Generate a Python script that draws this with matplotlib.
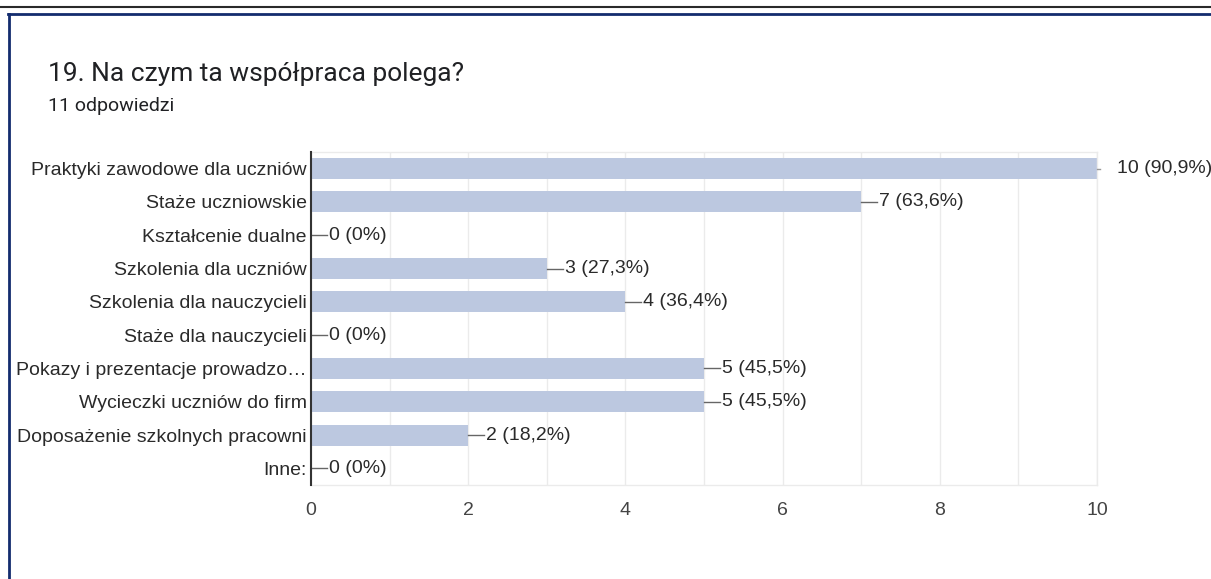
import matplotlib
matplotlib.use("Agg")
import matplotlib.pyplot as plt
from matplotlib.lines import Line2D

categories = [
    "Praktyki zawodowe dla uczniów",
    "Staże uczniowskie",
    "Kształcenie dualne",
    "Szkolenia dla uczniów",
    "Szkolenia dla nauczycieli",
    "Staże dla nauczycieli",
    "Pokazy i prezentacje prowadzo…",
    "Wycieczki uczniów do firm",
    "Doposażenie szkolnych pracowni",
    "Inne:",
]
counts = [10, 7, 0, 3, 4, 0, 5, 5, 2, 0]
percents = ["90,9%", "63,6%", "0%", "27,3%", "36,4%", "0%", "45,5%", "45,5%", "18,2%", "0%"]
xticks = [0, 2, 4, 6, 8, 10]

title = "19. Na czym ta współpraca polega?"
subtitle = "11 odpowiedzi"

W, H = 1211, 579
fig = plt.figure(figsize=(W / 100, H / 100), dpi=100)
fig.patch.set_facecolor("white")

# frame lines
fig.add_artist(Line2D([0, 1], [1 - 7 / H, 1 - 7 / H], transform=fig.transFigure, color="#2a2a2a", lw=1.5))
fig.add_artist(Line2D([8 / W, 1], [1 - 13.5 / H, 1 - 13.5 / H], transform=fig.transFigure, color="#132c6e", lw=2.0))
fig.add_artist(Line2D([8.5 / W, 8.5 / W], [1 - 13.5 / H, 0], transform=fig.transFigure, color="#132c6e", lw=2.0))

fig.text(48 / W, 1 - 74 / H, title, fontsize=19, family="Roboto", color="#202124", va="center", ha="left")
fig.text(48 / W, 1 - 106 / H, subtitle, fontsize=14, family="Roboto", color="#202124", va="center", ha="left")

FS = 14
TXT = "#2a2a2a"
left, right, top, bottom = 311, 1097, 152, 485
ax = fig.add_axes([left / W, 1 - bottom / H, (right - left) / W, (bottom - top) / H])
y = list(range(len(categories)))
ax.barh(y, counts, height=0.63, color="#bcc8e0", zorder=2)
ax.set_xlim(0, 10)
ax.set_ylim(len(categories) - 0.5, -0.5)
ax.set_yticks(y)
ax.set_yticklabels(categories, fontsize=FS, family="Liberation Sans", color=TXT)
ax.set_xticks(xticks)
ax.set_xticklabels([str(t) for t in xticks], fontsize=FS, family="Liberation Sans", color="#444444")
ax.set_xticks(range(0, 11), minor=True)
ax.grid(True, axis="x", which="both", color="#ebebeb", lw=1.0, zorder=0)
ax.tick_params(axis="both", which="both", length=0)
ax.tick_params(axis="y", pad=3)
ax.tick_params(axis="x", pad=12.5)
for s in ["top", "right", "bottom"]:
    ax.spines[s].set_color("#ebebeb")
    ax.spines[s].set_linewidth(1.0)
ax.spines["left"].set_color("#333333")
ax.spines["left"].set_linewidth(1.5)
ax.spines["left"].set_zorder(5)

for yi, c, p in zip(y, counts, percents):
    if c >= 10:
        ax.plot([c, c + 0.04], [yi, yi], color="#999999", lw=1, clip_on=False, zorder=3)
        ax.text(c + 0.25, yi, f"{c} ({p})", fontsize=FS, family="Liberation Sans", color=TXT,
                va="center", ha="left", clip_on=False)
    else:
        ax.plot([c, c + 0.2], [yi, yi], color="#666666", lw=1, clip_on=False, zorder=3)
        ax.text(c + 0.23, yi, f"{c} ({p})", fontsize=FS, family="Liberation Sans", color=TXT,
                va="center", ha="left", clip_on=False)

fig.savefig("out.png", dpi=100, facecolor="white")
